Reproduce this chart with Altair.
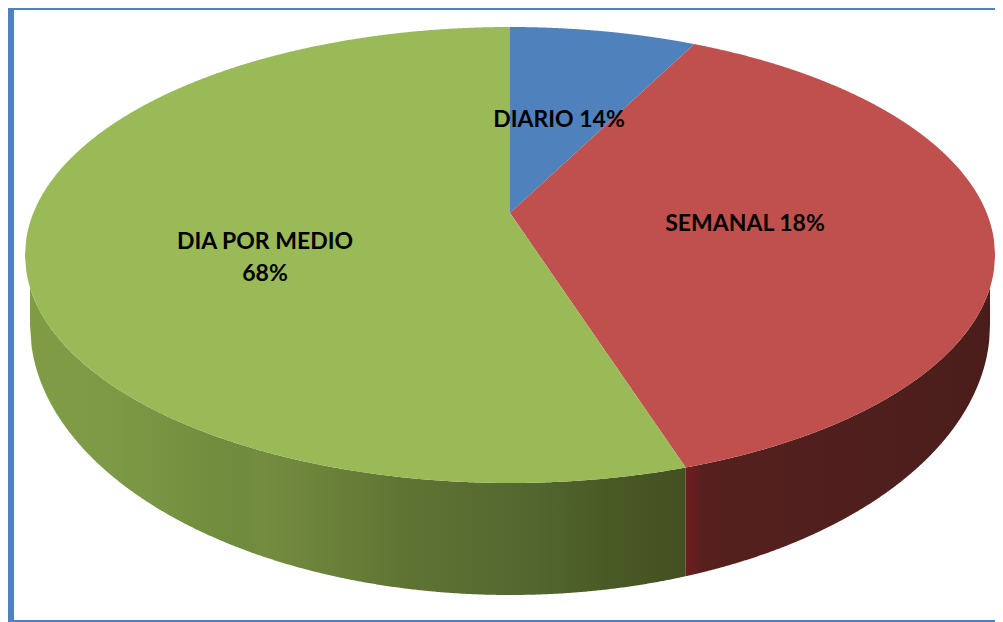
import altair as alt
import numpy as np
import pandas as pd

categories = ["DIARIO", "SEMANAL", "DIA POR MEDIO"]
drawn_shares = [6.2, 37.9, 55.9]          # share of the rim each slice occupies in the picture
top_colors = ["#4f81bd", "#c0504d", "#99ba57"]
label_lines = ["DIARIO 14%", "SEMANAL 18%", "DIA POR MEDIO", "68%"]
label_x = [559, 745, 265, 265]
label_y = [120, 224, 242, 274]

rim = dict(cx=510.0, cy=255.0, rx=485.0, ry=228.0)
base = dict(cx=510.0, cy=325.0, rx=480.0, ry=270.0)
apex = (510.0, 213.0)

green_stops = [(0.0, "#7f9c45"), (0.11, "#7f9a46"), (0.155, "#7a9844"), (0.31, "#6f8b3d"),
               (0.36, "#748c3f"), (0.57, "#5f7433"), (0.77, "#536630"), (0.88, "#4a5a25"), (1.0, "#435022")]
red_stops = [(0.0, "#701c20"), (0.03, "#651e20"), (0.06, "#55201e"), (0.6, "#4f1f1d"), (1.0, "#4a1d1b")]

W, H = 987, 614
xs = alt.Scale(domain=[8, 995], nice=False, zero=False)
ys = alt.Scale(domain=[622, 8], nice=False, zero=False)


def rim_xy(t):
    return rim["cx"] + rim["rx"] * np.sin(t), rim["cy"] - rim["ry"] * np.cos(t)


def sector_table(t0, t1):
    ts = np.linspace(t0, t1, 240)
    px, py = rim_xy(ts)
    px = np.concatenate([[apex[0]], px, [apex[0]]])
    py = np.concatenate([[apex[1]], py, [apex[1]]])
    samples = np.linspace(px.min(), px.max(), 500)
    keys = [px.min() + 0.01, px.max() - 0.01, apex[0] - 0.01, apex[0] + 0.01]
    keys += [px[1] - 0.01, px[1] + 0.01, px[-2] - 0.01, px[-2] + 0.01]
    samples = np.unique(np.concatenate([samples, [k for k in keys if px.min() <= k <= px.max()]]))
    rows = []
    for x in samples:
        hits = []
        for i in range(len(px) - 1):
            a, b = px[i], px[i + 1]
            if a != b and (a - x) * (b - x) <= 0:
                hits.append(py[i] + (x - a) / (b - a) * (py[i + 1] - py[i]))
        if hits:
            rows.append({"x": x, "y": min(hits), "y2": max(hits)})
    return pd.DataFrame(rows)


def side_table(x0, x1):
    x = np.linspace(x0, x1, 400)
    top = rim["cy"] + rim["ry"] * np.sqrt(np.clip(1 - ((x - rim["cx"]) / rim["rx"]) ** 2, 0, 1))
    bot = base["cy"] + base["ry"] * np.sqrt(np.clip(1 - ((x - base["cx"]) / base["rx"]) ** 2, 0, 1))
    return pd.DataFrame({"x": x, "y": top, "y2": bot})


def gradient(stops):
    return alt.Gradient(
        gradient="linear", x1=0, x2=1, y1=0, y2=0,
        stops=[alt.GradientStop(offset=o, color=c) for o, c in stops],
    )


def area(df, fill):
    return alt.Chart(df).mark_area(color=fill, interpolate="linear").encode(
        x=alt.X("x:Q", scale=xs, axis=None),
        y=alt.Y("y:Q", scale=ys, axis=None),
        y2="y2:Q",
    )


edges = np.cumsum([0.0] + drawn_shares) / sum(drawn_shares) * 2 * np.pi
seam_x = rim_xy(edges[2])[0]

layers = [
    area(side_table(base["cx"] - base["rx"], seam_x), gradient(green_stops)),
    area(side_table(seam_x, base["cx"] + base["rx"]), gradient(red_stops)),
]
for i in range(3):
    layers.append(area(sector_table(edges[i], edges[i + 1]), top_colors[i]))

labels = pd.DataFrame({"text": label_lines, "x": label_x, "y": label_y})
layers.append(
    alt.Chart(labels).mark_text(font="Lato", fontWeight="bold", fontSize=23, color="#000000",
                                align="center", baseline="middle").encode(
        x=alt.X("x:Q", scale=xs, axis=None),
        y=alt.Y("y:Q", scale=ys, axis=None),
        text="text:N",
    )
)

frame = pd.DataFrame({"x": [11], "x2": [1012], "y": [7], "y2": [623]})
layers.append(
    alt.Chart(frame).mark_rect(fillOpacity=0, stroke="#4f81bd", strokeWidth=6).encode(
        x=alt.X("x:Q", scale=xs, axis=None),
        x2="x2:Q",
        y=alt.Y("y:Q", scale=ys, axis=None),
        y2="y2:Q",
    )
)

chart = alt.layer(*layers).properties(
    width=W, height=H, padding=0, background="#ffffff",
    autosize=alt.AutoSizeParams(type="none"),
).configure_view(stroke=None)

chart.save("out.html", embed_options={"renderer": "svg", "actions": False})
